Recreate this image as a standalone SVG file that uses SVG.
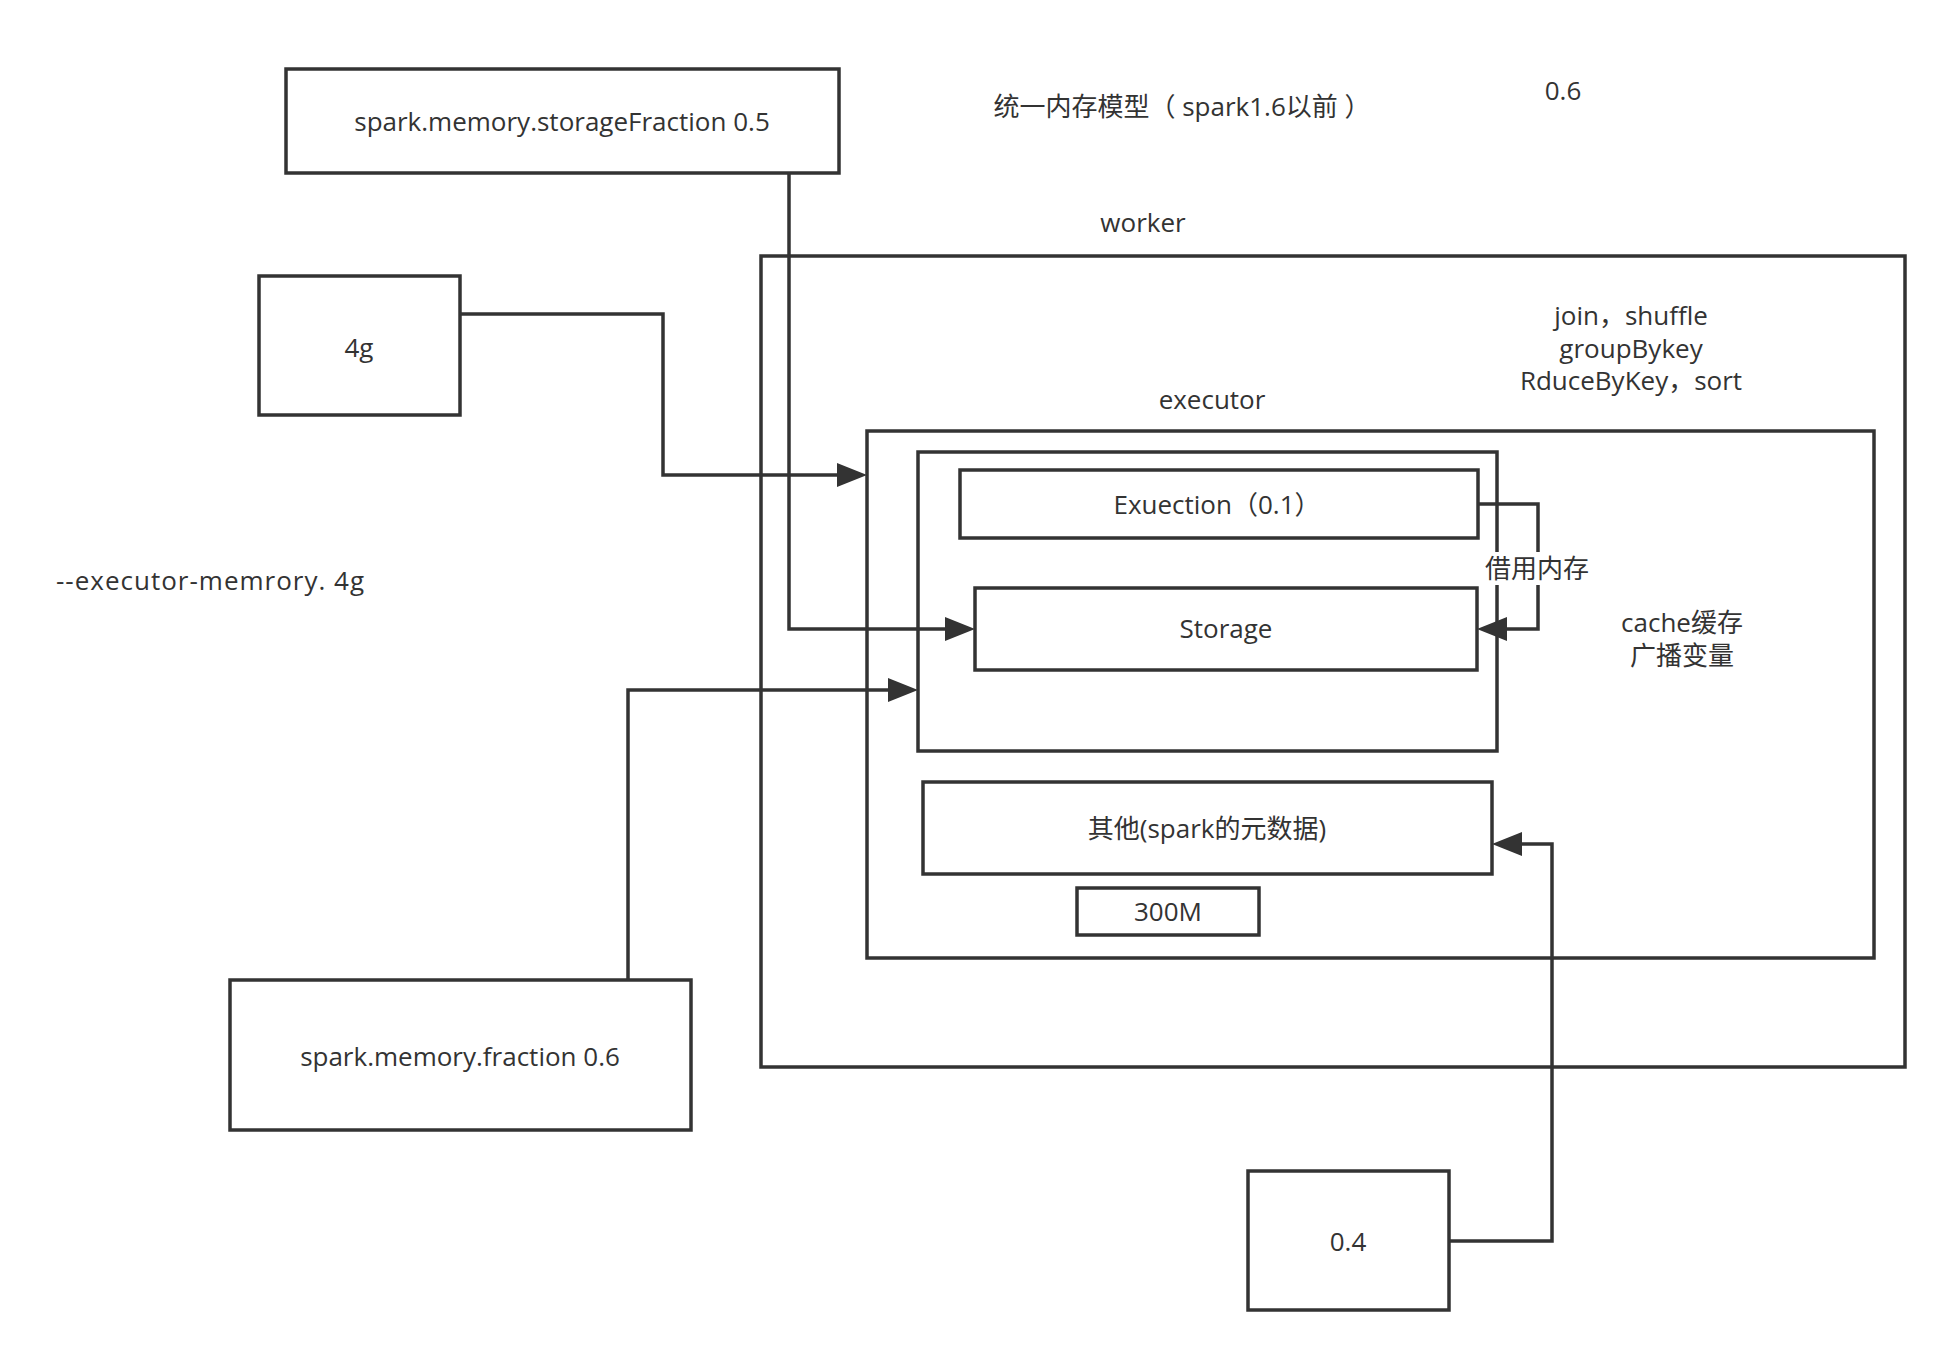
<svg xmlns="http://www.w3.org/2000/svg" width="1955" height="1361" viewBox="0 0 1955 1361">
<defs>
<style>
.box{fill:none;stroke:#333;stroke-width:3.5}
.edge{fill:none;stroke:#333;stroke-width:3.5}
text{font-family:"Open Sans","Noto Sans CJK SC",sans-serif;font-size:26px;fill:#333;text-anchor:middle;dominant-baseline:central}
</style>
<marker id="arr" markerUnits="userSpaceOnUse" markerWidth="30" markerHeight="24" refX="15" refY="12" orient="auto">
<path d="M0,0 L30,12 L0,24 Z" fill="#333"/>
</marker>
</defs>
<rect width="1955" height="1361" fill="#fff"/>
<g id="title"><text x="1182" y="106">统一内存模型（ spark1.6以前 ）</text></g>
<g id="label-06"><text x="1563" y="90">0.6</text></g>
<g id="label-executor-memory"><text x="56" y="580" style="text-anchor:start;letter-spacing:1px">--executor-memrory. 4g</text></g>
<g id="worker">
<rect class="box" x="761" y="256" width="1144" height="811"/>
<text x="1143" y="222">worker</text>
</g>
<g id="ops-note">
<text x="1631" y="315">join，shuffle<tspan x="1631" dy="32.5">groupBykey</tspan><tspan x="1631" dy="32.5">RduceByKey，sort</tspan></text>
</g>
<g id="executor">
<rect class="box" x="867" y="431" width="1007" height="527"/>
<text x="1212" y="399">executor</text>
</g>
<g id="unified-memory"><rect class="box" x="918" y="452" width="579" height="299"/></g>
<g id="execution">
<rect class="box" x="960" y="470" width="518" height="68"/>
<text x="1217" y="504">Exuection（0.1）</text>
</g>
<g id="storage">
<rect class="box" x="975" y="588" width="502" height="82"/>
<text x="1226" y="628">Storage</text>
</g>
<g id="cache-note">
<text x="1682" y="622">cache缓存<tspan x="1682" dy="32.5">广播变量</tspan></text>
</g>
<g id="other">
<rect class="box" x="923" y="782" width="569" height="92"/>
<text x="1207" y="828">其他(spark的元数据)</text>
</g>
<g id="reserved">
<rect class="box" x="1077" y="888" width="182" height="47"/>
<text x="1168" y="911">300M</text>
</g>
<g id="storage-fraction">
<rect class="box" x="286" y="69" width="553" height="104"/>
<text x="562" y="121">spark.memory.storageFraction 0.5</text>
</g>
<g id="mem-4g">
<rect class="box" x="259" y="276" width="201" height="139"/>
<text x="359" y="347">4g</text>
</g>
<g id="memory-fraction">
<rect class="box" x="230" y="980" width="461" height="150"/>
<text x="460" y="1056">spark.memory.fraction 0.6</text>
</g>
<g id="other-04">
<rect class="box" x="1248" y="1171" width="201" height="139"/>
<text x="1348" y="1241">0.4</text>
</g>
<g id="connectors">
<path class="edge" d="M460,314 H663 V475 H852" marker-end="url(#arr)"/>
<path class="edge" d="M789,173 V629 H960" marker-end="url(#arr)"/>
<path class="edge" d="M628,980 V690 H903" marker-end="url(#arr)"/>
<path class="edge" d="M1478,504 H1538 V629 H1492" marker-end="url(#arr)"/>
<path class="edge" d="M1449,1241 H1552 V844 H1507" marker-end="url(#arr)"/>
<rect x="1485" y="552" width="104" height="33" fill="#fff"/>
<text x="1537" y="568">借用内存</text>
</g>
</svg>
